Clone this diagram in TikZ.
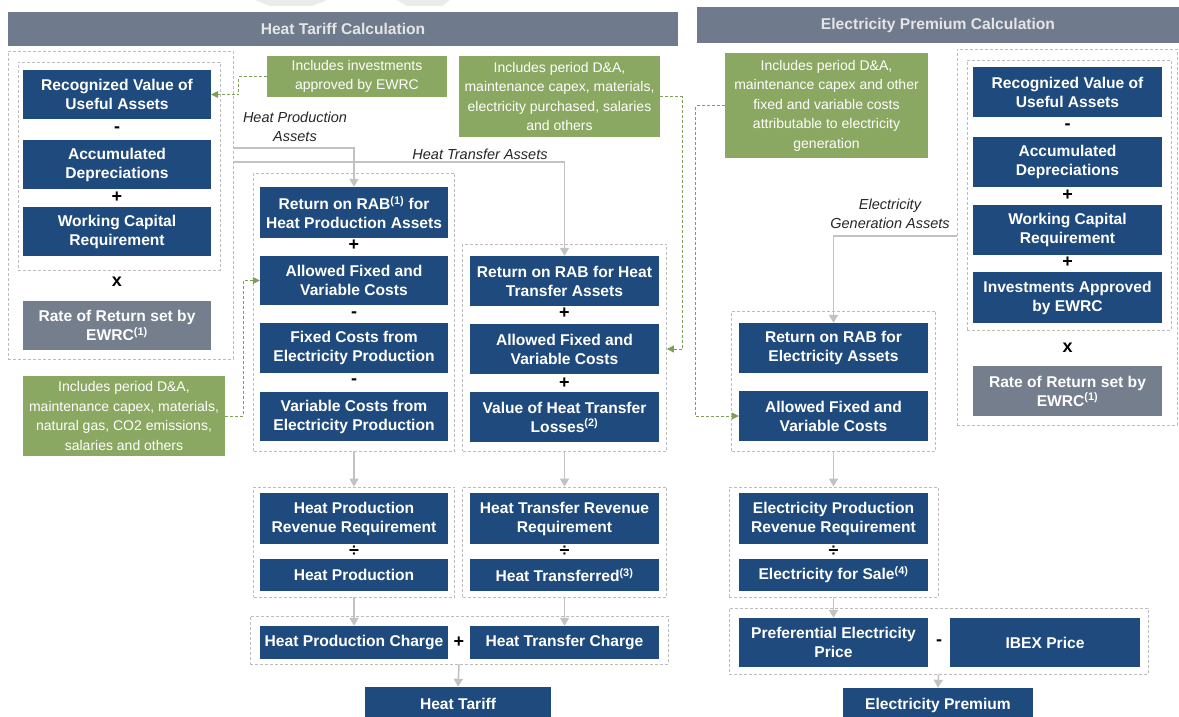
\documentclass[tikz,border=0pt]{standalone}
\usepackage{fontspec}
\setmainfont{Liberation Sans}
\usetikzlibrary{arrows.meta}

\definecolor{boxblue}{HTML}{1F4A7D}
\definecolor{hdrgray}{HTML}{6F7B8D}
\definecolor{rategray}{HTML}{747E8D}
\definecolor{notegreen}{HTML}{8BA862}
\definecolor{arrowgray}{HTML}{C2C2C2}
\definecolor{dashgray}{HTML}{BDBDBD}
\definecolor{linkgreen}{HTML}{7E9F55}

\newcommand\boxfont{\fontsize{15.6}{19}\selectfont\bfseries}
\newcommand\opfont{\fontsize{18}{19}\selectfont\bfseries}
\newcommand\notefont{\fontsize{14}{19.5}\selectfont}
\newcommand\tagfont{\fontsize{14.5}{18.5}\selectfont\itshape}

\begin{document}
\begin{tikzpicture}[x=1pt, y=-1pt,
	blk/.style={fill=boxblue, text=white, font=\boxfont, align=center, inner sep=0pt, minimum width=188pt, minimum height=50pt},
	rate/.style={blk, fill=rategray},
	note/.style={fill=notegreen, text=white, font=\notefont, align=center, inner sep=0pt},
	grp/.style={draw=dashgray, dash pattern=on 3pt off 2pt, line width=0.8pt, inner sep=0pt},
	op/.style={font=\opfont, inner sep=0pt},
	tag/.style={font=\tagfont, align=center, inner sep=0pt, text=black!85},
	hdr/.style={fill=hdrgray, text=white!90!black, font=\boxfont, inner sep=0pt},
	flow/.style={draw=arrowgray, line width=1.6pt, -{Triangle[width=9pt,length=8pt]}},
	link/.style={draw=linkgreen, dash pattern=on 3pt off 2pt, line width=0.8pt, -{Triangle[width=7pt,length=7pt]}}]
	\useasboundingbox (0,0) rectangle (1179,716);

	% watermark remains
	\fill[black!8] (255,0) -- (327,0) -- (312,6) -- (270,6) -- cycle;
	\fill[black!8] (397,0) -- (450,0) -- (442,6) -- (407,6) -- cycle;

	% headers
	\node[hdr, minimum width=670pt, minimum height=34pt] (hdr1) at (343,28.5) {Heat Tariff Calculation};
	\node[hdr, minimum width=482pt, minimum height=36pt] (hdr2) at (938,25) {Electricity Premium Calculation};

	% dashed groups
	\node[grp, minimum width=225pt, minimum height=308pt] (lout) at (120.5,205) {};
	\node[grp, minimum width=202pt, minimum height=208pt] (lin) at (119,166) {};
	\node[grp, minimum width=201pt, minimum height=278pt] (hpgrp) at (354,312) {};
	\node[grp, minimum width=204pt, minimum height=207pt] (htgrp) at (564.5,347.5) {};
	\node[grp, minimum width=201pt, minimum height=110pt] (hprgrp) at (354,542) {};
	\node[grp, minimum width=204pt, minimum height=110pt] (htrgrp) at (564.5,542) {};
	\node[grp, minimum width=418pt, minimum height=48pt] (chggrp) at (459,640) {};
	\node[grp, minimum width=220pt, minimum height=376pt] (rout) at (1067,237) {};
	\node[grp, minimum width=204pt, minimum height=270pt] (rin) at (1069,195) {};
	\node[grp, minimum width=204pt, minimum height=140pt] (elgrp) at (833.5,381) {};
	\node[grp, minimum width=209pt, minimum height=110pt] (elrgrp) at (833.5,542) {};
	\node[grp, minimum width=419pt, minimum height=66pt] (pgrp) at (938.5,641) {};

	% heat: rate base
	\node[blk, minimum height=49pt] (rv1) at (117,94.5) {Recognized Value of\\Useful Assets};
	\node[op] (o1) at (117,130) {-};
	\node[blk, minimum height=49pt] (ad1) at (117,164.5) {Accumulated\\Depreciations};
	\node[op] (o2) at (117,197) {+};
	\node[blk, minimum height=49pt] (wc1) at (117,231.5) {Working Capital\\Requirement};
	\node[op] (o3) at (117,282) {x};
	\node[rate, minimum height=49pt] (rt1) at (117,325.5) {Rate of Return set by\\EWRC\textsuperscript{(1)}};

	% heat production
	\node[blk, minimum height=51pt] (rr1) at (354,212.5) {Return on RAB\textsuperscript{(1)} for\\Heat Production Assets};
	\node[op] (o4) at (354,245) {+};
	\node[blk, minimum height=49pt] (af1) at (354,280.5) {Allowed Fixed and\\Variable Costs};
	\node[op] (o5) at (354,315) {-};
	\node[blk] (fc1) at (354,348) {Fixed Costs from\\Electricity Production};
	\node[op] (o6) at (354,382) {-};
	\node[blk, minimum height=49pt] (vc1) at (354,416.5) {Variable Costs from\\Electricity Production};

	% heat transfer
	\node[blk, minimum width=189pt] (rr2) at (564.5,281) {Return on RAB for Heat\\Transfer Assets};
	\node[op] (o7) at (564.5,313) {+};
	\node[blk, minimum width=189pt] (af2) at (564.5,349) {Allowed Fixed and\\Variable Costs};
	\node[op] (o8) at (564.5,383) {+};
	\node[blk, minimum width=189pt] (vl2) at (564.5,417) {Value of Heat Transfer\\Losses\textsuperscript{(2)}};

	% revenue requirements and charges
	\node[blk, minimum height=51pt] (hprr) at (354,518.5) {Heat Production\\Revenue Requirement};
	\node[op] (o9) at (354,551) {÷};
	\node[blk, minimum height=32pt] (hpq) at (354,575) {Heat Production};
	\node[blk, minimum width=189pt, minimum height=51pt] (htrr) at (564.5,518.5) {Heat Transfer Revenue\\Requirement};
	\node[op] (o10) at (564.5,551) {÷};
	\node[blk, minimum width=189pt, minimum height=32pt] (htq) at (564.5,575) {Heat Transferred\textsuperscript{(3)}};
	\node[blk, minimum height=33pt] (hpc) at (354,642.5) {Heat Production Charge};
	\node[op] (o11) at (459,642) {+};
	\node[blk, minimum width=189pt, minimum height=33pt] (htc) at (564.5,642.5) {Heat Transfer Charge};
	\node[blk, minimum width=186pt, minimum height=34pt] (tariff) at (458,704) {Heat Tariff};

	% electricity: rate base
	\node[blk, minimum width=189pt] (rv2) at (1067.5,92) {Recognized Value of\\Useful Assets};
	\node[op] (o12) at (1067.5,127) {-};
	\node[blk, minimum width=189pt] (ad2) at (1067.5,162) {Accumulated\\Depreciations};
	\node[op] (o13) at (1067.5,195) {+};
	\node[blk, minimum width=189pt] (wc2) at (1067.5,230) {Working Capital\\Requirement};
	\node[op] (o14) at (1067.5,262) {+};
	\node[blk, minimum width=189pt, minimum height=51pt] (ia2) at (1067.5,297.5) {Investments Approved\\by EWRC};
	\node[op] (o15) at (1067.5,348) {x};
	\node[rate, minimum width=189pt] (rt2) at (1067.5,391) {Rate of Return set by\\EWRC\textsuperscript{(1)}};

	% electricity generation
	\node[blk, minimum width=189pt] (rr3) at (833.5,348) {Return on RAB for\\Electricity Assets};
	\node[blk, minimum width=189pt] (af3) at (833.5,416) {Allowed Fixed and\\Variable Costs};
	\node[blk, minimum width=189pt, minimum height=51pt] (elrr) at (833.5,518.5) {Electricity Production\\Revenue Requirement};
	\node[op] (o16) at (833.5,551) {÷};
	\node[blk, minimum width=189pt, minimum height=32pt] (els) at (833.5,575) {Electricity for Sale\textsuperscript{(4)}};
	\node[blk, minimum width=189pt, minimum height=49pt] (pref) at (833.5,642.5) {Preferential Electricity\\Price};
	\node[op] (o17) at (939,643) {-};
	\node[blk, minimum width=190pt, minimum height=49pt] (ibex) at (1045,642.5) {IBEX Price};
	\node[blk, minimum width=190pt, minimum height=34pt] (premium) at (938,705) {Electricity Premium};

	% notes
	\node[note, minimum width=180pt, minimum height=41pt] (g1) at (357,76.5) {Includes investments\\approved by EWRC};
	\node[note, minimum width=201pt, minimum height=81pt] (g3) at (559.5,96.5) {Includes period D\&A,\\maintenance capex, materials,\\electricity purchased, salaries\\and others};
	\node[note, minimum width=202pt, minimum height=80pt] (g2) at (124,416) {Includes period D\&A,\\maintenance capex, materials,\\natural gas, CO2 emissions,\\salaries and others};
	\node[note, minimum width=203pt, minimum height=105pt] (g4) at (826.5,105.5) {Includes period D\&A,\\maintenance capex and other\\fixed and variable costs\\attributable to electricity\\generation};

	% asset labels
	\node[tag] (hpalbl) at (295,127) {Heat Production\\Assets};
	\node[tag] (htalbl) at (480,154) {Heat Transfer Assets};
	\node[tag] (egalbl) at (890,214) {Electricity\\Generation Assets};

	% asset flows
	\coordinate (hpa) at (233,148);
	\coordinate (hta) at (233,162);
	\coordinate (ega) at (957,236);
	\draw[flow] (hpa) -| (rr1.north);
	\draw[flow] (hta) -| (rr2.north);
	\draw[flow] (ega) -| (rr3.north);

	\path (hpgrp.south) edge[flow] (hprgrp.north);
	\path (htgrp.south) edge[flow] (htrgrp.north);
	\path (elgrp.south) edge[flow] (elrgrp.north);
	\path (hprgrp.south) edge[flow] (hpc.north);
	\path (htrgrp.south) edge[flow] (htc.north);
	\path (elrgrp.south) edge[flow] (pref.north);
	\path (chggrp.south) edge[flow] (tariff.north);
	\path (pgrp.south) edge[flow] (premium.north);

	% note links
	\draw[link] (g1.west) -- ++(-28,0) |- (rv1.east);
	\draw[link] (g2.east) -- ++(18,0) |- (af1.west);
	\draw[link] (g3.east) -- ++(22,0) |- (af2.east -| htgrp.east);
	\draw[link] (g4.west) -- ++(-29,0) |- (af3.west);
\end{tikzpicture}
\end{document}
